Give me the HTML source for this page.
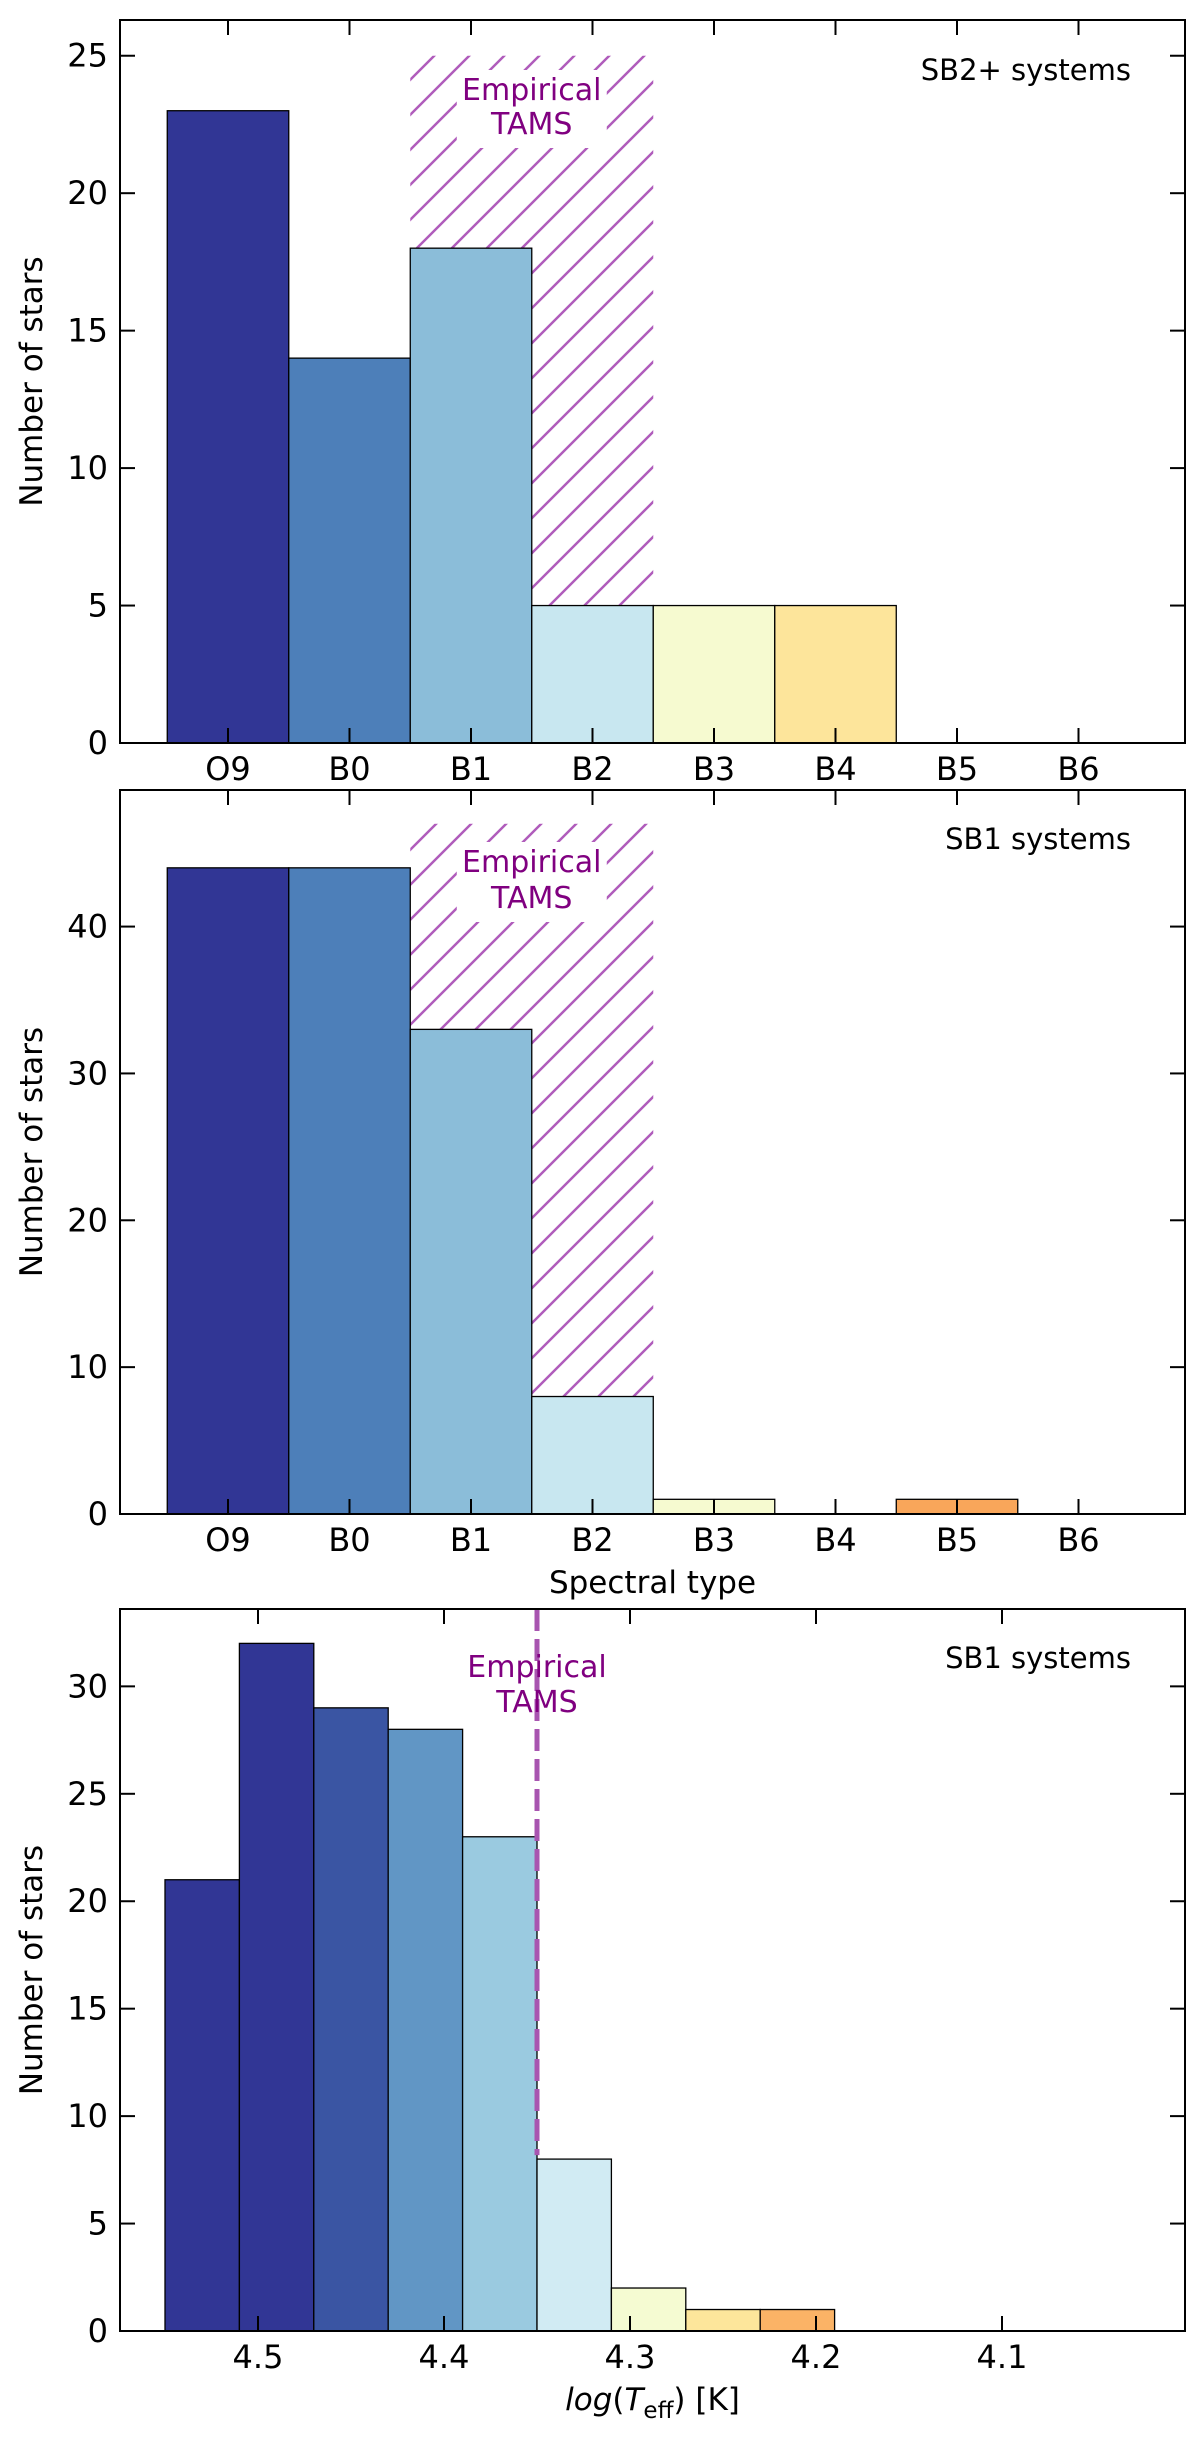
<!DOCTYPE html>
<html><head><meta charset="utf-8"><style>
html,body{margin:0;padding:0;background:#fff;}
svg{display:block;font-family:"DejaVu Sans","Liberation Sans",sans-serif;}
</style></head><body>
<svg id="fig" width="1200" height="2438" viewBox="0 0 1200 2438" xmlns="http://www.w3.org/2000/svg">
<defs>
<pattern id="hatch" patternUnits="userSpaceOnUse" width="35" height="35">
<path d="M0,35 L35,0 M-5,5 L5,-5 M30,40 L40,30" stroke="#b05cbb" stroke-width="2.5"/>
</pattern>
</defs>
</svg>
<script>
const spTypes = ["O9","B0","B1","B2","B3","B4","B5","B6"];
const sb2Counts = [23,14,18,5,5,5,0,0];
const sb1Counts = [44,44,33,8,1,0,1,0];
const spColors = ["#313695","#4d7fb9","#8bbdd9","#c8e7f0","#f6fad0","#fde59b","#f9a65a","#f46d43"];
const sb2YTicks = [0,5,10,15,20,25];
const sb1YTicks = [0,10,20,30,40];
const teffEdges = [4.55,4.51,4.47,4.43,4.39,4.35,4.31,4.27,4.23,4.19];
const teffCounts = [21,32,29,28,23,8,2,1,1];
const teffColors = ["#313695","#313695","#3a55a3","#6196c5","#9acae0","#d1ebf3","#f5fbd2","#fde69b","#fbb366"];
const teffXTicks = [4.5,4.4,4.3,4.2,4.1];
const teffYTicks = [0,5,10,15,20,25,30];
const tamsTeff = 4.35;
const tamsRange = [1.5,3.5];

const NS="http://www.w3.org/2000/svg";
const svg=document.getElementById('fig');
function el(tag,attrs,parent){const e=document.createElementNS(NS,tag);for(const k in attrs)e.setAttribute(k,attrs[k]);(parent||svg).appendChild(e);return e;}
const L=120,R=1185,CX=(L+R)/2;

function panel(name,top,bottom,ymax,yTicks,xfn,xTickVals,xTickLabels){
  const g=el('g',{});
  
  
  const y=v=>bottom-(v/ymax)*(bottom-top);
  return {g,y,top,bottom,ymax,yTicks,xfn,xTickVals,xTickLabels};
}
function frame(p){
  const g=p.g;
  p.yTicks.forEach(v=>{
    const yy=p.y(v);
    const t1=el('line',{x1:L,x2:L+15,y1:yy,y2:yy,stroke:'#000','stroke-width':2},g);
    
    
    el('line',{x1:R,x2:R-15,y1:yy,y2:yy,stroke:'#000','stroke-width':2},g);
    const tx=el('text',{x:L-12,y:yy+11,'text-anchor':'end','font-size':32,fill:'#000'},g);
    tx.textContent=v;
    
    
  });
  p.xTickVals.forEach((v,i)=>{
    const xx=p.xfn(v);
    el('line',{x1:xx,x2:xx,y1:p.bottom,y2:p.bottom-15,stroke:'#000','stroke-width':2},g);
    el('line',{x1:xx,x2:xx,y1:p.top,y2:p.top+15,stroke:'#000','stroke-width':2},g);
    const tx=el('text',{x:xx,y:p.bottom+37,'text-anchor':'middle','font-size':32,fill:'#000'},g);
    tx.textContent=p.xTickLabels[i];
    
    
  });
  const fr=el('rect',{x:L,y:p.top,width:R-L,height:p.bottom-p.top,fill:'none',stroke:'#000','stroke-width':2},g);
  
  
  const yl=el('text',{x:0,y:0,transform:`translate(42,${(p.top+p.bottom)/2}) rotate(-90)`,'text-anchor':'middle','font-size':31,fill:'#000'},g);
  yl.textContent='Number of stars';
  
  
}
function note(p,text,yy){
  const t=el('text',{x:1131,y:yy,'text-anchor':'end','font-size':29,fill:'#000'},p.g);
  t.textContent=text;
  
  
}
function tamsText(g,cx,y1,y2,bg){
  if(bg){el('rect',{x:cx-75,y:y1-30,width:150,height:y2-y1+44,fill:'#fff'},g);}
  const a=el('text',{x:cx,y:y1,'text-anchor':'middle','font-size':30,fill:'#800080'},g);
  a.textContent='Empirical';
  
  
  const b=el('text',{x:cx,y:y2,'text-anchor':'middle','font-size':30,fill:'#800080'},g);
  b.textContent='TAMS';
  
  
}

const catX=i=>L+(i+0.889)*121.5;
function catPanel(name,top,bottom,ymax,yTicks,counts,noteText,noteY,hTop,t1,t2){
  const p=panel(name,top,bottom,ymax,yTicks,catX,spTypes.map((s,i)=>i),spTypes);
  const h=el('rect',{x:catX(tamsRange[0]),y:p.y(hTop),width:catX(tamsRange[1])-catX(tamsRange[0]),height:bottom-p.y(hTop),fill:'url(#hatch)'},p.g);
  
  
  tamsText(p.g,catX(2.5),t1,t2,true);
  counts.forEach((c,i)=>{
    if(c<=0)return;
    const b=el('rect',{x:catX(i-0.5),y:p.y(c),width:121.5,height:bottom-p.y(c),fill:spColors[i],stroke:'#000','stroke-width':1.3},p.g);
    
    
  });
  frame(p);
  note(p,noteText,noteY);
  return p;
}
catPanel('panel-sb2-spectral',20,743,26.3,sb2YTicks,sb2Counts,'SB2+ systems',80,25,100,134);
catPanel('panel-sb1-spectral',790,1514,49.3,sb1YTicks,sb1Counts,'SB1 systems',849,47,872,908);
const xl=el('text',{x:CX,y:1593,'text-anchor':'middle','font-size':31,fill:'#000'});
xl.textContent='Spectral type';



const tX=v=>258+(4.5-v)*1860;
const p3=panel('panel-sb1-teff',1609,2331,33.6,teffYTicks,tX,teffXTicks,teffXTicks.map(v=>v.toFixed(1)));
teffCounts.forEach((c,i)=>{
  const x0=tX(teffEdges[i]),x1=tX(teffEdges[i+1]);
  const b=el('rect',{x:x0,y:p3.y(c),width:x1-x0,height:2331-p3.y(c),fill:teffColors[i],stroke:'#000','stroke-width':1.3},p3.g);
  
  
});
const dl=el('line',{x1:tX(tamsTeff),x2:tX(tamsTeff),y1:1609,y2:p3.y(8)-4,stroke:'#a855b0','stroke-width':5,'stroke-dasharray':'22,8'},p3.g);


tamsText(p3.g,tX(tamsTeff),1677,1712,false);
frame(p3);
note(p3,'SB1 systems',1668);
const xl3=el('text',{x:CX,y:2410,'text-anchor':'middle','font-size':31,fill:'#000'});


xl3.innerHTML='<tspan font-style="italic">log</tspan>(<tspan font-style="italic">T</tspan><tspan font-size="23" dy="8">eff</tspan><tspan dy="-8">)  [K]</tspan>';
</script>
</body></html>
